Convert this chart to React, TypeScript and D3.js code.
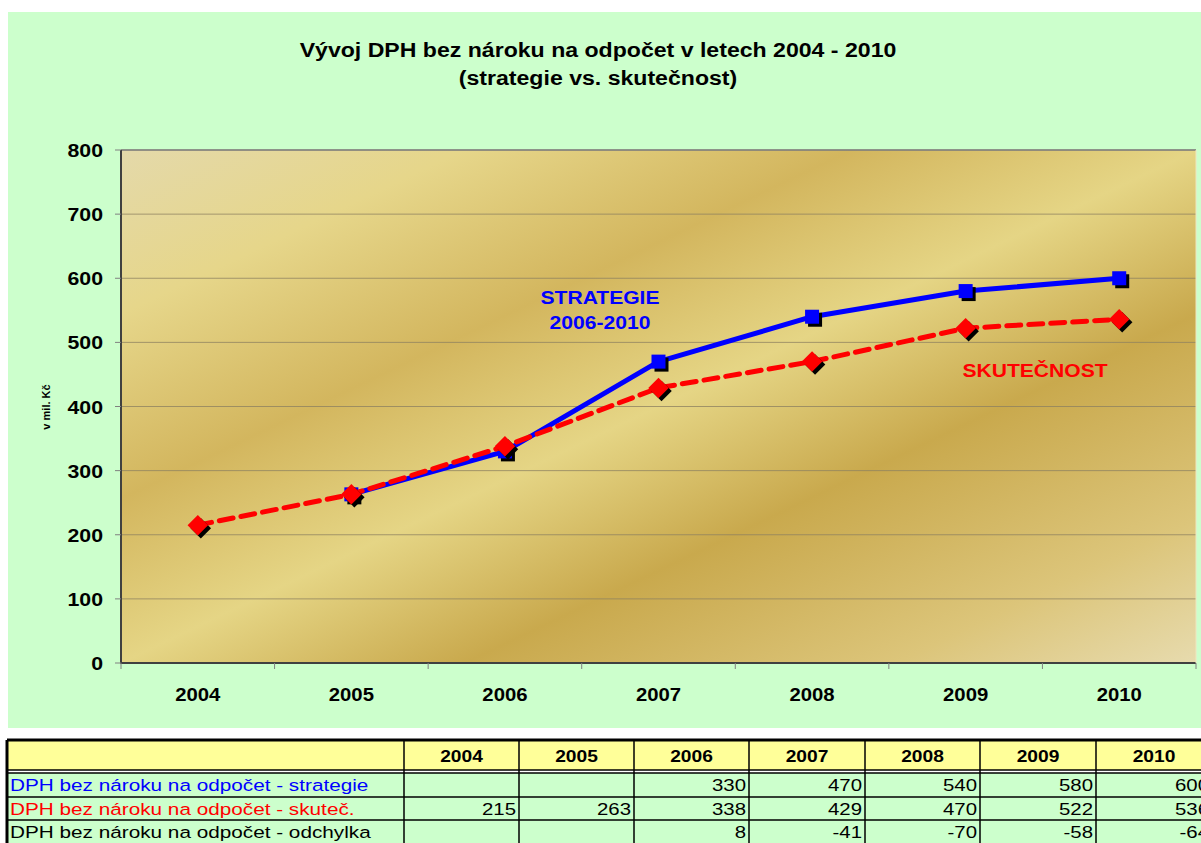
import React from "react";
import * as d3 from "d3";

const years = ["2004", "2005", "2006", "2007", "2008", "2009", "2010"];
// Chart series (strategy line starts at the 2005 actual value)
const strategieChart: (number | null)[] = [null, 263, 330, 470, 540, 580, 600];
const skutecnost: number[] = [215, 263, 338, 429, 470, 522, 536];
// Table rows
const tableStrategie: (number | null)[] = [null, null, 330, 470, 540, 580, 600];
const tableSkutec: (number | null)[] = [215, 263, 338, 429, 470, 522, 536];
const tableOdchylka: (number | null)[] = [null, null, 8, -41, -70, -58, -64];
const yTicks = [0, 100, 200, 300, 400, 500, 600, 700, 800];
const rowLabels = [
  "DPH bez nároku na odpočet - strategie",
  "DPH bez nároku na odpočet - skuteč.",
  "DPH bez nároku na odpočet - odchylka",
];
const rowColors = ["#0000FF", "#FF0000", "#000000"];

const FONT = "Arial, 'Liberation Sans', sans-serif";

type TProps = {
  x: number;
  y: number;
  size: number;
  sx?: number;
  anchor?: "start" | "middle" | "end";
  bold?: boolean;
  fill?: string;
  children: React.ReactNode;
};
function T({ x, y, size, sx = 1, anchor = "start", bold = false, fill = "#000", children }: TProps) {
  return (
    <text
      transform={`translate(${x},${y}) scale(${sx},1)`}
      textAnchor={anchor}
      fontSize={size}
      fontWeight={bold ? "bold" : "normal"}
      fill={fill}
    >
      {children}
    </text>
  );
}

export default function App() {
  const W = 1201, H = 843;
  const left = 121, right = 1196, top = 150, bottom = 663;
  const x = d3.scaleBand<string>().domain(years).range([left, right]).padding(0);
  const y = d3.scaleLinear().domain([0, 800]).range([bottom, top]);
  const cx = (i: number) => (x(years[i]) as number) + x.bandwidth() / 2;

  const line = d3
    .line<number | null>()
    .defined((d) => d != null)
    .x((_, i) => cx(i))
    .y((d) => y(d as number));

  // table geometry
  const colEdges = [7, 404, 519, 634, 749, 865, 980, 1096, 1212];
  const rowEdges = [740, 770, 773, 797, 820, 844];
  const rows = [tableStrategie, tableSkutec, tableOdchylka];

  const diamond = d3.symbol(d3.symbolSquare, 210)() || "";

  return (
    <svg
      width={W}
      height={H}
      style={{ position: "absolute", left: 0, top: 0, display: "block" }}
      fontFamily={FONT}
    >
      <defs>
        <linearGradient id="gold" x1="0" y1="0" x2="1" y2="1">
          <stop offset="0" stopColor="#E4D9AA" />
          <stop offset="0.16" stopColor="#E6D68A" />
          <stop offset="0.34" stopColor="#D3B65E" />
          <stop offset="0.5" stopColor="#E5D585" />
          <stop offset="0.66" stopColor="#C9A94D" />
          <stop offset="0.86" stopColor="#DCC57A" />
          <stop offset="1" stopColor="#E7DBAE" />
        </linearGradient>
      </defs>
      <rect x={0} y={0} width={W} height={H} fill="#FFFFFF" />
      <rect x={8} y={12} width={W - 8} height={716} fill="#CCFFCC" />

      {/* title */}
      <T x={598} y={57} size={21} sx={1.1} anchor="middle" bold>
        Vývoj DPH bez nároku na odpočet v letech 2004 - 2010
      </T>
      <T x={598} y={85} size={21} sx={1.1} anchor="middle" bold>
        (strategie vs. skutečnost)
      </T>

      {/* plot area */}
      <rect x={left} y={top} width={right - left} height={bottom - top} fill="url(#gold)" />
      {yTicks.slice(1).map((t) => (
        <line key={t} x1={left} x2={right} y1={y(t)} y2={y(t)} stroke="#8C8060" strokeWidth={1} opacity={0.75} />
      ))}
      <line x1={left} x2={right} y1={top} y2={top} stroke="#808080" strokeWidth={1.5} />
      <line x1={left} x2={left} y1={top} y2={bottom + 1} stroke="#404040" strokeWidth={2} />
      <line x1={left} x2={right} y1={bottom} y2={bottom} stroke="#404040" strokeWidth={2} />
      <line x1={right} x2={right} y1={top} y2={bottom} stroke="#EFE6C0" strokeWidth={1} />

      {/* y ticks */}
      {yTicks.map((t) => (
        <g key={t}>
          <line x1={left - 6} x2={left} y1={y(t)} y2={y(t)} stroke="#808080" />
          <T x={103} y={y(t) + 7} size={19} sx={1.12} anchor="end" bold>
            {t}
          </T>
        </g>
      ))}
      {/* x ticks */}
      {years.map((yr, i) => (
        <g key={yr}>
          <line x1={x(yr) as number} x2={x(yr) as number} y1={bottom} y2={bottom + 6} stroke="#808080" />
          <T x={cx(i)} y={701} size={19} sx={1.07} anchor="middle" bold>
            {yr}
          </T>
        </g>
      ))}
      <line x1={right} x2={right} y1={bottom} y2={bottom + 6} stroke="#808080" />

      <text
        transform={`translate(50,407) rotate(-90)`}
        textAnchor="middle"
        fontSize={11}
        fontWeight="bold"
        fill="#000"
      >
        v mil. Kč
      </text>

      {/* strategy line */}
      <path d={line(strategieChart) || ""} fill="none" stroke="#0000FF" strokeWidth={5} strokeLinejoin="round" />
      {strategieChart.map((v, i) =>
        v == null ? null : (
          <g key={"s" + i}>
            <rect x={cx(i) - 4} y={y(v) - 4} width={14} height={14} fill="#000" />
            <rect x={cx(i) - 7} y={y(v) - 7} width={14} height={14} fill="#0000FF" />
          </g>
        )
      )}

      {/* actual line */}
      <path
        d={line(skutecnost) || ""}
        fill="none"
        stroke="#FF0000"
        strokeWidth={5}
        strokeDasharray="14 8"
        strokeLinecap="round"
      />
      {skutecnost.map((v, i) => (
        <g key={"r" + i}>
          <path d={diamond} transform={`translate(${cx(i) + 3},${y(v) + 3}) rotate(45)`} fill="#000" />
          <path d={diamond} transform={`translate(${cx(i)},${y(v)}) rotate(45)`} fill="#FF0000" />
        </g>
      ))}

      {/* annotations */}
      <T x={600} y={304} size={19} sx={1.11} anchor="middle" bold fill="#0000FF">
        STRATEGIE
      </T>
      <T x={600} y={329} size={19} sx={1.11} anchor="middle" bold fill="#0000FF">
        2006-2010
      </T>
      <T x={1035} y={377} size={19} sx={1.11} anchor="middle" bold fill="#FF0000">
        SKUTEČNOST
      </T>

      {/* table */}
      <rect x={colEdges[0]} y={rowEdges[0]} width={W - colEdges[0]} height={rowEdges[1] - rowEdges[0]} fill="#FFFF99" />
      <rect x={colEdges[0]} y={rowEdges[2]} width={W - colEdges[0]} height={H - rowEdges[2]} fill="#CCFFCC" />
      {rowEdges.slice(0, 5).map((ry, k) => (
        <line key={"h" + k} x1={colEdges[0]} x2={W} y1={ry} y2={ry} stroke="#000" strokeWidth={k === 0 ? 3 : 1.5} />
      ))}
      {colEdges.slice(0, 8).map((cxp, k) => (
        <line key={"v" + k} x1={cxp} x2={cxp} y1={rowEdges[0]} y2={H} stroke="#000" strokeWidth={k === 0 ? 3 : 1.5} />
      ))}
      {years.map((yr, i) => (
        <T key={"th" + yr} x={(colEdges[i + 1] + colEdges[i + 2]) / 2} y={762} size={16} sx={1.2} anchor="middle" bold>
          {yr}
        </T>
      ))}
      {rows.map((r, ri) => (
        <g key={"row" + ri}>
          <T x={10} y={rowEdges[ri + 2] + 18} size={17} sx={1.22} fill={rowColors[ri]}>
            {rowLabels[ri]}
          </T>
          {r.map((v, ci) =>
            v == null ? null : (
              <T key={ci} x={colEdges[ci + 2] - 3} y={rowEdges[ri + 2] + 18} size={17} sx={1.2} anchor="end">
                {v}
              </T>
            )
          )}
        </g>
      ))}
    </svg>
  );
}
